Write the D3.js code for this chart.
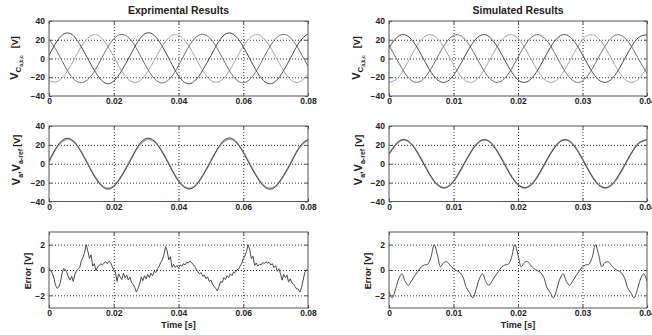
<!DOCTYPE html>
<html>
<head>
<meta charset="utf-8">
<script src="https://cdnjs.cloudflare.com/ajax/libs/d3/7.8.5/d3.min.js"></script>
<style>
  body { margin: 0; background: #fff; }
  svg { display: block; font-family: "Liberation Sans", Arial, sans-serif; }
</style>
</head>
<body>
<div id="chart"></div>
<script>
// sample spacing of each trace [s]
const dtExp = 0.0025;
const dtSim = 0.00125;
const dtErr = 0.0005;

// tick labels
const xTicksExp = [0, 0.02, 0.04, 0.06, 0.08];
const xTicksSim = [0, 0.01, 0.02, 0.03, 0.04];
const yTicksV = [-40, -20, 0, 20, 40];
const yTicksErr = [-2, 0, 2];

// experimental capacitor voltages Vc a,b,c
const expVcA = [3.2, 18.6, 26.8, 24.5, 12.4, -3.5, -18.0, -26.4, -24.2, -12.6, 2.8, 18.3, 27.0, 24.6, 12.9, -3.1, -18.4, -26.6, -24.0, -12.3, 3.0, 18.5, 26.9, 24.4, 12.6, -3.4, -18.2, -26.5, -24.3, -12.7, 3.1, 18.2, 26.4];
const expVcB = [-23.8, -24.6, -16.9, -2.5, 12.8, 23.3, 25.0, 16.5, 2.0, -13.4, -23.6, -24.9, -16.5, -2.0, 13.2, 23.6, 24.7, 16.8, 2.4, -13.0, -23.4, -24.7, -16.8, -2.3, 13.0, 23.4, 24.9, 16.6, 2.1, -13.2, -23.7, -24.8, -16.6];
const expVcC = [20.6, 7.4, -8.8, -21.5, -25.8, -20.6, -7.9, 8.3, 21.0, 25.6, 20.9, 7.8, -8.4, -21.2, -26.1, -20.9, -7.5, 8.6, 21.4, 25.8, 20.7, 7.5, -8.6, -21.4, -25.9, -20.7, -7.7, 8.4, 21.2, 25.7, 20.8, 7.6, -8.5];

// simulated capacitor voltages
const simVcA = [11.6, 22.7, 25.2, 18.0, 4.0, -11.6, -22.7, -25.2, -18.0, -4.0, 11.6, 22.7, 25.2, 18.0, 4.0, -11.6, -22.7, -25.2, -18.0, -4.0, 11.6, 22.7, 25.2, 18.0, 4.0, -11.6, -22.7, -25.2, -18.0, -4.0, 11.6, 22.7, 25.2];
const simVcB = [-25.5, -21.4, -9.1, 6.6, 19.8, 25.5, 21.4, 9.1, -6.6, -19.8, -25.5, -21.4, -9.1, 6.6, 19.8, 25.5, 21.4, 9.1, -6.6, -19.8, -25.5, -21.4, -9.1, 6.6, 19.8, 25.5, 21.4, 9.1, -6.6, -19.8, -25.5, -21.4, -9.1];
const simVcC = [13.9, -1.3, -16.0, -24.6, -23.8, -13.9, 1.3, 16.0, 24.6, 23.8, 13.9, -1.3, -16.0, -24.6, -23.8, -13.9, 1.3, 16.0, 24.6, 23.8, 13.9, -1.3, -16.0, -24.6, -23.8, -13.9, 1.3, 16.0, 24.6, 23.8, 13.9, -1.3, -16.0];

// Va and Va-ref
const expVa = [1.8, 18.4, 26.6, 24.3, 12.1, -3.9, -18.3, -26.4, -24.1, -12.2, 2.4, 18.6, 26.8, 24.1, 12.3, -3.6, -18.5, -26.2, -24.3, -12.4, 2.6, 18.3, 26.9, 24.4, 12.0, -3.8, -18.1, -26.5, -24.2, -12.3, 2.5, 18.5, 25.6];
const expVaRef = [3.2, 17.7, 25.5, 23.6, 12.6, -3.2, -17.7, -25.5, -23.6, -12.6, 3.2, 17.7, 25.5, 23.6, 12.6, -3.2, -17.7, -25.5, -23.6, -12.6, 3.2, 17.7, 25.5, 23.6, 12.6, -3.2, -17.7, -25.5, -23.6, -12.6, 3.2, 17.7, 25.5];
const simVa = [10.1, 21.8, 25.3, 18.5, 4.7, -10.8, -22.3, -25.3, -18.5, -4.8, 10.2, 21.9, 25.3, 18.4, 4.6, -10.9, -22.2, -25.3, -18.6, -4.7, 10.1, 21.8, 25.4, 18.5, 4.6, -10.8, -22.3, -25.3, -18.5, -4.8, 10.2, 21.8, 25.3];
const simVaRef = [10.4, 22.1, 25.4, 18.9, 5.3, -10.4, -22.1, -25.4, -18.9, -5.3, 10.4, 22.1, 25.4, 18.9, 5.3, -10.4, -22.1, -25.4, -18.9, -5.3, 10.4, 22.1, 25.4, 18.9, 5.3, -10.4, -22.1, -25.4, -18.9, -5.3, 10.4, 22.1, 25.4];

// tracking error
const expErr = [0.15, -0.05, -0.25, -0.6, -1.2, -1.45, -1.35, -1.0, -0.3, 0.1,
  0.05, -0.2, -0.55, -0.8, -0.5, -0.9, -0.35, -0.05, 0.05, 0.2,
  0.75, 1.0, 1.4, 2.0, 1.5, 0.9, 1.2, 0.3, 0.5, -0.05,
  0.25, 0.35, 0.5, 0.4, 0.55, 0.65, 0.5, 0.7, 0.6, 0.3,
  0.0, -0.15, -0.9, -0.3, -0.55, -0.75, -0.25, -0.6, -0.4, -0.8,
  -0.55, -1.0, -1.15, -1.4, -1.75, -1.45, -1.1, -0.55, -0.85, -0.45,
  -0.7, -0.35, -0.6, -0.25, -0.45, -0.1, -0.2, 0.1, 0.3, 0.6,
  0.8, 1.2, 1.85, 1.5, 0.8, 1.05, 0.2, 0.45, 0.2, 0.35,
  0.15, 0.4, 0.3, 0.5, 0.4, 0.6, 0.55, 0.7, 0.6, 0.45,
  0.3, 0.05, -0.15, -0.3, -0.2, -0.5, -0.4, -0.7, -0.55, -0.9,
  -0.8, -1.1, -1.3, -1.45, -1.65, -1.3, -0.9, -1.0, -0.6, -0.75,
  -0.45, -0.6, -0.3, -0.45, -0.15, -0.2, 0.0, 0.05, 0.3, 0.5,
  0.9, 1.1, 1.45, 2.0, 1.6, 0.9, 1.1, 0.35, 0.55, 0.3,
  0.45, 0.4, 0.6, 0.5, 0.65, 0.55, 0.6, 0.4, 0.5, 0.2,
  0.35, -0.1, 0.1, -0.3, -0.8, -0.35, -0.6, -0.4, -0.95, -0.7,
  -1.0, -1.1, -1.3, -1.5, -1.5, -1.75, -1.4, -0.8, -0.2, 0.0,
  0.0];
const simErr = [-1.7, -2.2, -1.55, -0.7, -0.3, -0.9, -1.2, -0.85, -0.45, -0.1,
  0.25, 0.4, 0.45, 1.0, 2.0, 1.2, 0.25, 0.6, 0.65, 0.35,
  0.1, -0.05, -0.2, -0.6, -1.4,
  -1.8, -2.2, -1.55, -0.7, -0.3, -0.9, -1.2, -0.85, -0.45, -0.1,
  0.25, 0.4, 0.45, 1.0, 2.0, 1.2, 0.25, 0.6, 0.65, 0.35,
  0.1, -0.05, -0.2, -0.6, -1.4,
  -1.8, -2.2, -1.55, -0.7, -0.3, -0.9, -1.2, -0.85, -0.45, -0.1,
  0.25, 0.4, 0.45, 1.0, 2.0, 1.2, 0.25, 0.6, 0.65, 0.35,
  0.1, -0.05, -0.2, -0.6, -1.4,
  -1.8, -2.2, -1.55, -0.7, -0.3, -0.9];

const W = 652, H = 335;
const svg = d3.select("#chart").append("svg").attr("width", W).attr("height", H);

const cols = { exp: { x0: 49, x1: 308 }, sim: { x0: 389, x1: 647 } };
const rows = [{ y0: 21, y1: 96 }, { y0: 126, y1: 201.5 }, { y0: 232, y1: 308 }];
const dark = "#4a4a4a", light = "#a6a6a6", mid = "#707070";
let clipN = 0;

function panel(col, row, xTicks, yDomain, yTicks, series) {
  const x = d3.scaleLinear().domain([xTicks[0], xTicks[xTicks.length - 1]]).range([col.x0, col.x1]);
  const y = d3.scaleLinear().domain(yDomain).range([row.y1, row.y0]);
  const g = svg.append("g");
  const inner = v => v > yDomain[0] && v < yDomain[1];

  // dotted grid
  g.append("g").attr("transform", `translate(0,${row.y0})`)
    .call(d3.axisBottom(x).tickValues(xTicks.slice(1, -1)).tickSize(row.y1 - row.y0).tickFormat(""))
    .call(a => a.select(".domain").remove())
    .call(a => a.selectAll("line").attr("stroke", "#333").attr("stroke-dasharray", "1,2"));
  g.append("g").attr("transform", `translate(${col.x0},0)`)
    .call(d3.axisRight(y).tickValues(yTicks.filter(inner)).tickSize(col.x1 - col.x0).tickFormat(""))
    .call(a => a.select(".domain").remove())
    .call(a => a.selectAll("line").attr("stroke", "#333").attr("stroke-dasharray", "1,2"));

  // traces
  const id = "clip" + (clipN++);
  g.append("clipPath").attr("id", id).append("rect")
    .attr("x", col.x0).attr("y", row.y0).attr("width", col.x1 - col.x0).attr("height", row.y1 - row.y0);
  series.forEach(s => {
    g.append("path").datum(s.values)
      .attr("d", d3.line().x((d, i) => x(i * s.dt)).y(d => y(d)).curve(s.curve || d3.curveNatural))
      .attr("fill", "none").attr("stroke", s.color).attr("stroke-width", s.w || 1)
      .attr("clip-path", `url(#${id})`);
  });

  // axes with inward ticks
  const fx = d => d === 0 ? "0" : d3.format(".2f")(d);
  const bx = g.append("g").attr("transform", `translate(0,${row.y1})`)
    .call(d3.axisBottom(x).tickValues(xTicks).tickSizeInner(-3).tickSizeOuter(0).tickPadding(2).tickFormat(fx));
  const ly = g.append("g").attr("transform", `translate(${col.x0},0)`)
    .call(d3.axisLeft(y).tickValues(yTicks).tickSizeInner(-3).tickSizeOuter(0).tickPadding(4).tickFormat(d3.format("d")));
  g.append("g").attr("transform", `translate(0,${row.y0})`)
    .call(d3.axisTop(x).tickValues(xTicks).tickSizeInner(-3).tickSizeOuter(0).tickFormat(""));
  g.append("g").attr("transform", `translate(${col.x1},0)`)
    .call(d3.axisRight(y).tickValues(yTicks).tickSizeInner(-3).tickSizeOuter(0).tickFormat(""));
  g.selectAll(".domain").remove();
  g.selectAll(".tick line").filter(function () { return !this.getAttribute("stroke-dasharray"); })
    .attr("stroke", "#555");
  [bx, ly].forEach(a => a.selectAll("text")
    .attr("font-size", 8.5).attr("font-weight", "bold").attr("fill", "#222")
    .attr("font-family", "Liberation Sans, Arial, sans-serif"));

  g.append("rect").attr("x", col.x0).attr("y", row.y0)
    .attr("width", col.x1 - col.x0).attr("height", row.y1 - row.y0)
    .attr("fill", "none").attr("stroke", "#555").attr("stroke-width", 1);
}

function yLabel(cx, cy, parts) {
  const t = svg.append("text").attr("transform", `translate(${cx},${cy}) rotate(-90)`)
    .attr("text-anchor", "middle").attr("font-weight", "bold").attr("fill", "#222");
  parts.forEach(p => t.append("tspan").attr("font-size", p.size)
    .attr("dy", p.dy || 0).attr("dx", p.dx || 0).text(p.text));
}

function title(cx, cy, txt, size) {
  svg.append("text").attr("x", cx).attr("y", cy).attr("text-anchor", "middle")
    .attr("font-size", size).attr("font-weight", "bold").attr("fill", "#222").text(txt);
}

// row 1: capacitor voltages
panel(cols.exp, rows[0], xTicksExp, [-40, 40], yTicksV, [
  { values: expVcB, dt: dtExp, color: light },
  { values: expVcC, dt: dtExp, color: mid },
  { values: expVcA, dt: dtExp, color: dark }
]);
panel(cols.sim, rows[0], xTicksSim, [-40, 40], yTicksV, [
  { values: simVcB, dt: dtSim, color: light },
  { values: simVcC, dt: dtSim, color: mid },
  { values: simVcA, dt: dtSim, color: dark }
]);

// row 2: Va vs reference
panel(cols.exp, rows[1], xTicksExp, [-40, 40], yTicksV, [
  { values: expVaRef, dt: dtExp, color: light, w: 1.6 },
  { values: expVa, dt: dtExp, color: dark }
]);
panel(cols.sim, rows[1], xTicksSim, [-40, 40], yTicksV, [
  { values: simVaRef, dt: dtSim, color: light, w: 1.6 },
  { values: simVa, dt: dtSim, color: dark }
]);

// row 3: error
panel(cols.exp, rows[2], xTicksExp, [-3, 3], yTicksErr, [
  { values: expErr, dt: dtErr, color: dark, curve: d3.curveLinear }
]);
panel(cols.sim, rows[2], xTicksSim, [-3, 3], yTicksErr, [
  { values: simErr, dt: dtErr, color: dark, curve: d3.curveCatmullRom }
]);

title(178.5, 14, "Exprimental Results", 10.5);
title(518, 14, "Simulated Results", 10.5);
title(178.5, 328, "Time [s]", 9);
title(518, 328, "Time [s]", 9);

const vcParts = [
  { text: "V", size: 11 }, { text: "C", size: 8, dy: 3 },
  { text: "a,b,c", size: 5, dy: 2 }, { text: "[V]", size: 9, dy: -5, dx: 7 }
];
const vaParts = [
  { text: "V", size: 11 }, { text: "a", size: 7, dy: 3 }, { text: ",", size: 9, dy: -3 },
  { text: "V", size: 11 }, { text: "a-ref", size: 7, dy: 3 }, { text: "[V]", size: 9, dy: -3, dx: 2 }
];
const errParts = [{ text: "Error [V]", size: 9 }];

yLabel(18, 58, vcParts);
yLabel(360, 58, vcParts);
yLabel(20, 160, vaParts);
yLabel(362, 160, vaParts);
yLabel(31, 271, errParts);
yLabel(371, 271, errParts);
</script>
</body>
</html>
